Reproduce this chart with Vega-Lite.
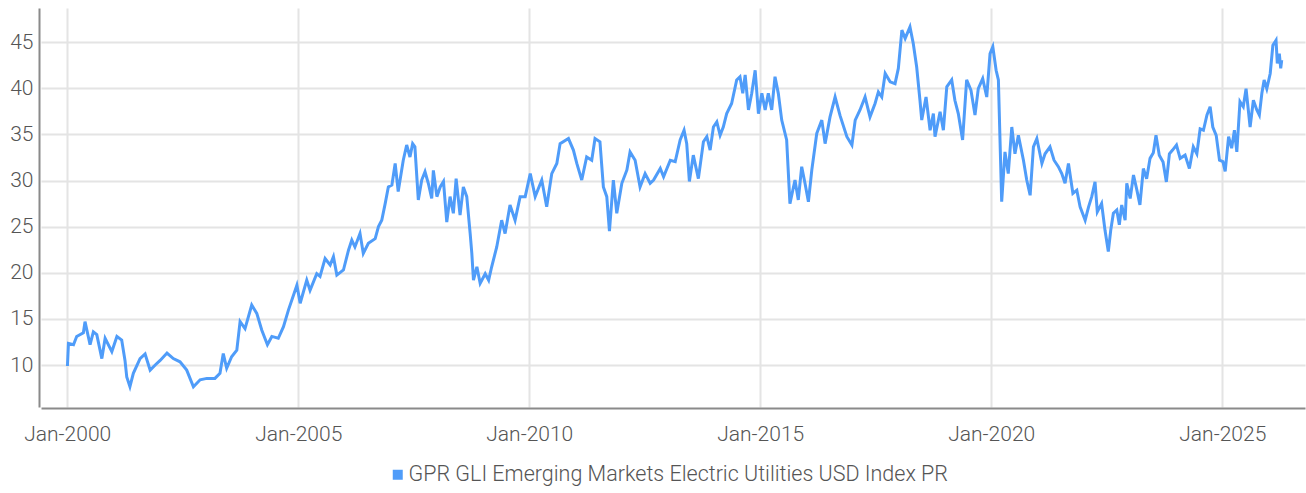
{
  "$schema": "https://vega.github.io/schema/vega-lite/v6.json",
  "autosize": {"type": "none"},
  "padding": {"left": 41, "top": 8, "right": 1, "bottom": 86},
  "width": 1264,
  "height": 399,
  "background": "white",
  "config": {
    "view": {"stroke": null},
    "font": "Roboto",
    "axis": {
      "labelFont": "Roboto",
      "labelFontWeight": 300,
      "labelFontSize": 21,
      "labelColor": "#555555",
      "gridColor": "#e4e4e4",
      "gridWidth": 2,
      "domainColor": "#8a8a8a",
      "domainWidth": 2,
      "ticks": false
    },
    "legend": {
      "labelFont": "Roboto",
      "labelFontWeight": 300,
      "labelFontSize": 21.5,
      "labelColor": "#555555",
      "padding": 0
    }
  },
  "data": {
    "values": [
      {"date": "2000-01-03", "value": 9.9},
      {"date": "2000-01-11", "value": 12.35},
      {"date": "2000-02-20", "value": 12.2},
      {"date": "2000-03-16", "value": 13.1},
      {"date": "2000-05-08", "value": 13.5},
      {"date": "2000-05-21", "value": 14.7},
      {"date": "2000-06-30", "value": 12.2},
      {"date": "2000-07-26", "value": 13.6},
      {"date": "2000-08-22", "value": 13.3},
      {"date": "2000-10-01", "value": 10.7},
      {"date": "2000-10-27", "value": 12.9},
      {"date": "2000-12-19", "value": 11.45},
      {"date": "2001-01-28", "value": 13.1},
      {"date": "2001-03-07", "value": 12.7},
      {"date": "2001-04-02", "value": 10.5},
      {"date": "2001-04-16", "value": 8.7},
      {"date": "2001-05-11", "value": 7.65},
      {"date": "2001-06-07", "value": 9.1},
      {"date": "2001-07-30", "value": 10.7},
      {"date": "2001-09-08", "value": 11.2},
      {"date": "2001-10-18", "value": 9.45},
      {"date": "2001-11-27", "value": 10.0},
      {"date": "2002-01-05", "value": 10.5},
      {"date": "2002-02-28", "value": 11.3},
      {"date": "2002-04-19", "value": 10.7},
      {"date": "2002-06-11", "value": 10.35},
      {"date": "2002-08-03", "value": 9.45},
      {"date": "2002-09-25", "value": 7.65},
      {"date": "2002-11-17", "value": 8.4},
      {"date": "2003-01-09", "value": 8.55},
      {"date": "2003-03-14", "value": 8.55},
      {"date": "2003-04-23", "value": 9.1},
      {"date": "2003-05-19", "value": 11.25},
      {"date": "2003-06-15", "value": 9.65},
      {"date": "2003-07-24", "value": 10.9},
      {"date": "2003-09-03", "value": 11.6},
      {"date": "2003-09-29", "value": 14.7},
      {"date": "2003-11-07", "value": 13.95},
      {"date": "2003-12-30", "value": 16.5},
      {"date": "2004-02-08", "value": 15.6},
      {"date": "2004-03-18", "value": 13.8},
      {"date": "2004-05-02", "value": 12.2},
      {"date": "2004-06-06", "value": 13.1},
      {"date": "2004-07-27", "value": 12.9},
      {"date": "2004-09-06", "value": 14.15},
      {"date": "2004-10-15", "value": 15.95},
      {"date": "2004-12-21", "value": 18.65},
      {"date": "2005-01-16", "value": 16.7},
      {"date": "2005-03-09", "value": 19.2},
      {"date": "2005-04-04", "value": 18.1},
      {"date": "2005-05-27", "value": 19.9},
      {"date": "2005-06-22", "value": 19.6},
      {"date": "2005-08-01", "value": 21.55},
      {"date": "2005-09-10", "value": 20.85},
      {"date": "2005-10-06", "value": 21.75},
      {"date": "2005-11-02", "value": 19.75},
      {"date": "2005-12-24", "value": 20.3},
      {"date": "2006-02-02", "value": 22.45},
      {"date": "2006-02-28", "value": 23.55},
      {"date": "2006-03-25", "value": 22.8},
      {"date": "2006-05-04", "value": 24.25},
      {"date": "2006-05-30", "value": 22.1},
      {"date": "2006-07-09", "value": 23.2},
      {"date": "2006-09-01", "value": 23.7},
      {"date": "2006-09-27", "value": 25.0},
      {"date": "2006-10-23", "value": 25.7},
      {"date": "2006-11-19", "value": 27.5},
      {"date": "2006-12-14", "value": 29.3},
      {"date": "2007-01-11", "value": 29.5},
      {"date": "2007-02-06", "value": 31.85},
      {"date": "2007-03-02", "value": 28.8},
      {"date": "2007-04-11", "value": 32.2},
      {"date": "2007-05-08", "value": 33.85},
      {"date": "2007-06-03", "value": 32.55},
      {"date": "2007-06-24", "value": 34.0},
      {"date": "2007-07-12", "value": 33.65},
      {"date": "2007-08-08", "value": 27.9},
      {"date": "2007-09-04", "value": 30.05},
      {"date": "2007-09-30", "value": 30.95},
      {"date": "2007-10-26", "value": 29.7},
      {"date": "2007-11-22", "value": 28.05},
      {"date": "2007-12-05", "value": 31.1},
      {"date": "2008-01-02", "value": 28.25},
      {"date": "2008-01-28", "value": 29.3},
      {"date": "2008-02-23", "value": 29.9},
      {"date": "2008-03-20", "value": 25.5},
      {"date": "2008-04-15", "value": 28.25},
      {"date": "2008-05-11", "value": 26.45},
      {"date": "2008-06-02", "value": 30.2},
      {"date": "2008-07-03", "value": 26.25},
      {"date": "2008-07-29", "value": 29.3},
      {"date": "2008-08-25", "value": 28.25},
      {"date": "2008-09-21", "value": 24.25},
      {"date": "2008-10-04", "value": 22.1},
      {"date": "2008-10-17", "value": 19.2},
      {"date": "2008-11-13", "value": 20.65},
      {"date": "2008-12-09", "value": 18.85},
      {"date": "2009-01-18", "value": 19.9},
      {"date": "2009-02-14", "value": 19.2},
      {"date": "2009-03-10", "value": 20.65},
      {"date": "2009-04-19", "value": 22.8},
      {"date": "2009-05-28", "value": 25.7},
      {"date": "2009-06-24", "value": 24.25},
      {"date": "2009-08-02", "value": 27.35},
      {"date": "2009-09-11", "value": 25.7},
      {"date": "2009-10-21", "value": 28.25},
      {"date": "2009-11-30", "value": 28.25},
      {"date": "2010-01-09", "value": 30.75},
      {"date": "2010-02-17", "value": 28.25},
      {"date": "2010-04-10", "value": 30.05},
      {"date": "2010-05-19", "value": 27.15},
      {"date": "2010-06-28", "value": 30.75},
      {"date": "2010-08-07", "value": 31.85},
      {"date": "2010-09-02", "value": 34.0},
      {"date": "2010-11-07", "value": 34.55},
      {"date": "2010-12-16", "value": 33.3},
      {"date": "2011-01-12", "value": 31.85},
      {"date": "2011-02-20", "value": 30.05},
      {"date": "2011-03-31", "value": 32.55},
      {"date": "2011-05-10", "value": 32.2},
      {"date": "2011-06-05", "value": 34.55},
      {"date": "2011-07-14", "value": 34.2},
      {"date": "2011-08-10", "value": 29.3},
      {"date": "2011-09-06", "value": 28.25},
      {"date": "2011-09-27", "value": 24.5},
      {"date": "2011-10-28", "value": 30.05},
      {"date": "2011-11-24", "value": 26.45},
      {"date": "2012-01-03", "value": 29.7},
      {"date": "2012-02-12", "value": 31.15},
      {"date": "2012-03-08", "value": 33.1},
      {"date": "2012-04-17", "value": 32.2},
      {"date": "2012-05-26", "value": 29.3},
      {"date": "2012-07-05", "value": 30.75},
      {"date": "2012-08-14", "value": 29.7},
      {"date": "2012-09-10", "value": 30.05},
      {"date": "2012-11-02", "value": 31.3},
      {"date": "2012-11-28", "value": 30.4},
      {"date": "2013-01-20", "value": 32.2},
      {"date": "2013-02-28", "value": 32.05},
      {"date": "2013-04-08", "value": 34.4},
      {"date": "2013-05-09", "value": 35.45},
      {"date": "2013-05-30", "value": 34.0},
      {"date": "2013-06-20", "value": 29.9},
      {"date": "2013-07-21", "value": 32.75},
      {"date": "2013-08-30", "value": 30.2},
      {"date": "2013-10-09", "value": 34.2},
      {"date": "2013-11-05", "value": 34.75},
      {"date": "2013-12-01", "value": 33.3},
      {"date": "2013-12-27", "value": 35.8},
      {"date": "2014-01-23", "value": 36.35},
      {"date": "2014-02-18", "value": 34.9},
      {"date": "2014-03-15", "value": 35.8},
      {"date": "2014-04-11", "value": 37.25},
      {"date": "2014-05-20", "value": 38.35},
      {"date": "2014-06-29", "value": 40.9},
      {"date": "2014-07-25", "value": 41.25},
      {"date": "2014-08-16", "value": 39.45},
      {"date": "2014-09-04", "value": 41.45},
      {"date": "2014-09-30", "value": 37.65},
      {"date": "2014-10-26", "value": 39.45},
      {"date": "2014-11-22", "value": 41.95},
      {"date": "2014-12-18", "value": 37.25},
      {"date": "2015-01-14", "value": 39.45},
      {"date": "2015-02-09", "value": 37.65},
      {"date": "2015-03-06", "value": 39.45},
      {"date": "2015-04-02", "value": 37.65},
      {"date": "2015-04-28", "value": 41.25},
      {"date": "2015-05-24", "value": 39.45},
      {"date": "2015-06-20", "value": 36.55},
      {"date": "2015-07-29", "value": 34.4},
      {"date": "2015-08-24", "value": 27.5},
      {"date": "2015-10-03", "value": 30.05},
      {"date": "2015-10-29", "value": 27.9},
      {"date": "2015-11-25", "value": 31.5},
      {"date": "2015-12-21", "value": 29.7},
      {"date": "2016-01-17", "value": 27.7},
      {"date": "2016-02-13", "value": 31.15},
      {"date": "2016-03-23", "value": 35.1},
      {"date": "2016-05-02", "value": 36.55},
      {"date": "2016-05-28", "value": 34.0},
      {"date": "2016-07-06", "value": 36.9},
      {"date": "2016-08-15", "value": 39.05},
      {"date": "2016-09-24", "value": 37.0},
      {"date": "2016-11-16", "value": 34.75},
      {"date": "2016-12-26", "value": 33.85},
      {"date": "2017-01-21", "value": 36.55},
      {"date": "2017-02-28", "value": 37.65},
      {"date": "2017-04-09", "value": 39.05},
      {"date": "2017-05-18", "value": 36.9},
      {"date": "2017-06-27", "value": 38.35},
      {"date": "2017-07-23", "value": 39.6},
      {"date": "2017-08-19", "value": 39.05},
      {"date": "2017-09-15", "value": 41.6},
      {"date": "2017-10-24", "value": 40.7},
      {"date": "2017-12-02", "value": 40.5},
      {"date": "2017-12-28", "value": 42.15},
      {"date": "2018-01-25", "value": 46.3},
      {"date": "2018-02-20", "value": 45.4},
      {"date": "2018-03-30", "value": 46.65},
      {"date": "2018-04-25", "value": 44.85},
      {"date": "2018-05-22", "value": 42.3},
      {"date": "2018-06-17", "value": 38.7},
      {"date": "2018-07-01", "value": 36.55},
      {"date": "2018-08-04", "value": 39.05},
      {"date": "2018-09-05", "value": 35.45},
      {"date": "2018-10-01", "value": 37.25},
      {"date": "2018-10-14", "value": 34.75},
      {"date": "2018-11-23", "value": 37.45},
      {"date": "2018-12-19", "value": 35.45},
      {"date": "2019-01-15", "value": 40.15},
      {"date": "2019-02-23", "value": 40.9},
      {"date": "2019-03-20", "value": 38.7},
      {"date": "2019-04-16", "value": 37.25},
      {"date": "2019-05-20", "value": 34.4},
      {"date": "2019-06-21", "value": 40.9},
      {"date": "2019-07-25", "value": 39.8},
      {"date": "2019-08-26", "value": 37.1},
      {"date": "2019-09-21", "value": 39.95},
      {"date": "2019-10-26", "value": 41.05},
      {"date": "2019-11-27", "value": 39.05},
      {"date": "2019-12-23", "value": 43.75},
      {"date": "2020-01-14", "value": 44.5},
      {"date": "2020-02-09", "value": 41.95},
      {"date": "2020-02-27", "value": 40.9},
      {"date": "2020-03-24", "value": 27.7},
      {"date": "2020-04-19", "value": 33.1},
      {"date": "2020-05-15", "value": 30.75},
      {"date": "2020-06-12", "value": 35.8},
      {"date": "2020-07-07", "value": 32.9},
      {"date": "2020-08-03", "value": 34.9},
      {"date": "2020-09-12", "value": 32.2},
      {"date": "2020-10-08", "value": 30.05},
      {"date": "2020-11-04", "value": 28.4},
      {"date": "2020-11-30", "value": 33.65},
      {"date": "2020-12-27", "value": 34.55},
      {"date": "2021-02-05", "value": 31.85},
      {"date": "2021-03-02", "value": 32.9},
      {"date": "2021-04-10", "value": 33.65},
      {"date": "2021-05-12", "value": 32.2},
      {"date": "2021-06-15", "value": 31.5},
      {"date": "2021-07-12", "value": 30.75},
      {"date": "2021-08-07", "value": 29.7},
      {"date": "2021-09-03", "value": 31.85},
      {"date": "2021-10-08", "value": 28.6},
      {"date": "2021-11-08", "value": 28.95},
      {"date": "2021-12-04", "value": 27.15},
      {"date": "2022-01-13", "value": 25.7},
      {"date": "2022-02-09", "value": 27.15},
      {"date": "2022-03-06", "value": 28.25},
      {"date": "2022-04-01", "value": 29.85},
      {"date": "2022-04-19", "value": 26.6},
      {"date": "2022-05-23", "value": 27.5},
      {"date": "2022-06-19", "value": 24.6},
      {"date": "2022-07-15", "value": 22.3},
      {"date": "2022-08-03", "value": 24.6},
      {"date": "2022-08-24", "value": 26.45},
      {"date": "2022-09-20", "value": 26.8},
      {"date": "2022-10-10", "value": 25.2},
      {"date": "2022-10-29", "value": 27.35},
      {"date": "2022-11-25", "value": 25.7},
      {"date": "2022-12-08", "value": 29.7},
      {"date": "2023-01-04", "value": 28.05},
      {"date": "2023-01-30", "value": 30.6},
      {"date": "2023-02-26", "value": 28.95},
      {"date": "2023-03-22", "value": 27.35},
      {"date": "2023-04-18", "value": 31.3},
      {"date": "2023-05-14", "value": 30.2},
      {"date": "2023-06-10", "value": 32.4},
      {"date": "2023-07-06", "value": 33.0},
      {"date": "2023-07-27", "value": 34.9},
      {"date": "2023-08-22", "value": 32.75},
      {"date": "2023-09-21", "value": 32.0},
      {"date": "2023-10-17", "value": 29.85},
      {"date": "2023-11-10", "value": 32.9},
      {"date": "2023-12-05", "value": 33.3},
      {"date": "2024-01-05", "value": 33.85},
      {"date": "2024-02-03", "value": 32.4},
      {"date": "2024-03-13", "value": 32.75},
      {"date": "2024-04-16", "value": 31.3},
      {"date": "2024-05-17", "value": 33.65},
      {"date": "2024-06-14", "value": 32.9},
      {"date": "2024-07-10", "value": 35.6},
      {"date": "2024-08-05", "value": 35.45},
      {"date": "2024-09-02", "value": 37.1},
      {"date": "2024-09-27", "value": 38.0},
      {"date": "2024-10-18", "value": 35.8},
      {"date": "2024-11-14", "value": 34.9},
      {"date": "2024-12-10", "value": 32.2},
      {"date": "2025-01-06", "value": 32.05},
      {"date": "2025-01-24", "value": 31.0},
      {"date": "2025-02-20", "value": 34.75},
      {"date": "2025-03-16", "value": 33.5},
      {"date": "2025-04-07", "value": 35.45},
      {"date": "2025-04-26", "value": 33.1},
      {"date": "2025-05-21", "value": 38.55},
      {"date": "2025-06-16", "value": 38.0},
      {"date": "2025-07-08", "value": 39.95},
      {"date": "2025-08-09", "value": 35.8},
      {"date": "2025-09-04", "value": 38.7},
      {"date": "2025-10-01", "value": 37.65},
      {"date": "2025-10-21", "value": 37.1},
      {"date": "2025-11-10", "value": 39.45},
      {"date": "2025-11-28", "value": 40.9},
      {"date": "2025-12-19", "value": 39.95},
      {"date": "2026-01-15", "value": 41.6},
      {"date": "2026-02-05", "value": 44.65},
      {"date": "2026-03-02", "value": 45.2},
      {"date": "2026-03-12", "value": 42.7},
      {"date": "2026-03-28", "value": 43.75},
      {"date": "2026-04-08", "value": 42.15},
      {"date": "2026-04-16", "value": 43.05}
    ]
  },
  "mark": {"type": "line", "strokeWidth": 3, "interpolate": "linear"},
  "encoding": {
    "x": {
      "field": "date",
      "type": "temporal",
      "scale": {"domain": [{"year": 1999, "month": 6, "date": 8}, {"year": 2026, "month": 10, "date": 17}]},
      "axis": {
        "title": null,
        "format": "%b-%Y",
        "values": [
          {"year": 2000, "month": 1, "date": 1},
          {"year": 2005, "month": 1, "date": 1},
          {"year": 2010, "month": 1, "date": 1},
          {"year": 2015, "month": 1, "date": 1},
          {"year": 2020, "month": 1, "date": 1},
          {"year": 2025, "month": 1, "date": 1}
        ],
        "labelPadding": 15,
        "offset": 1
      }
    },
    "y": {
      "field": "value",
      "type": "quantitative",
      "scale": {"domain": [5.45, 48.7], "nice": false, "zero": false},
      "axis": {
        "title": null,
        "values": [10, 15, 20, 25, 30, 35, 40, 45],
        "labelPadding": 6,
        "offset": 2
      }
    },
    "color": {
      "datum": "GPR GLI Emerging Markets Electric Utilities USD Index PR",
      "type": "nominal",
      "scale": {"range": ["#4f9cf9"]},
      "legend": {
        "title": null,
        "orient": "none",
        "legendX": 346,
        "legendY": 456,
        "symbolType": "square",
        "symbolSize": 100,
        "symbolFillColor": "#4f9cf9",
        "symbolStrokeWidth": 0,
        "labelOffset": 0,
        "labelLimit": 0,
        "encode": {"symbols": {"update": {"fill": {"value": "#4f9cf9"}, "stroke": {"value": "#4f9cf9"}, "strokeWidth": {"value": 0}}}}
      }
    }
  }
}
